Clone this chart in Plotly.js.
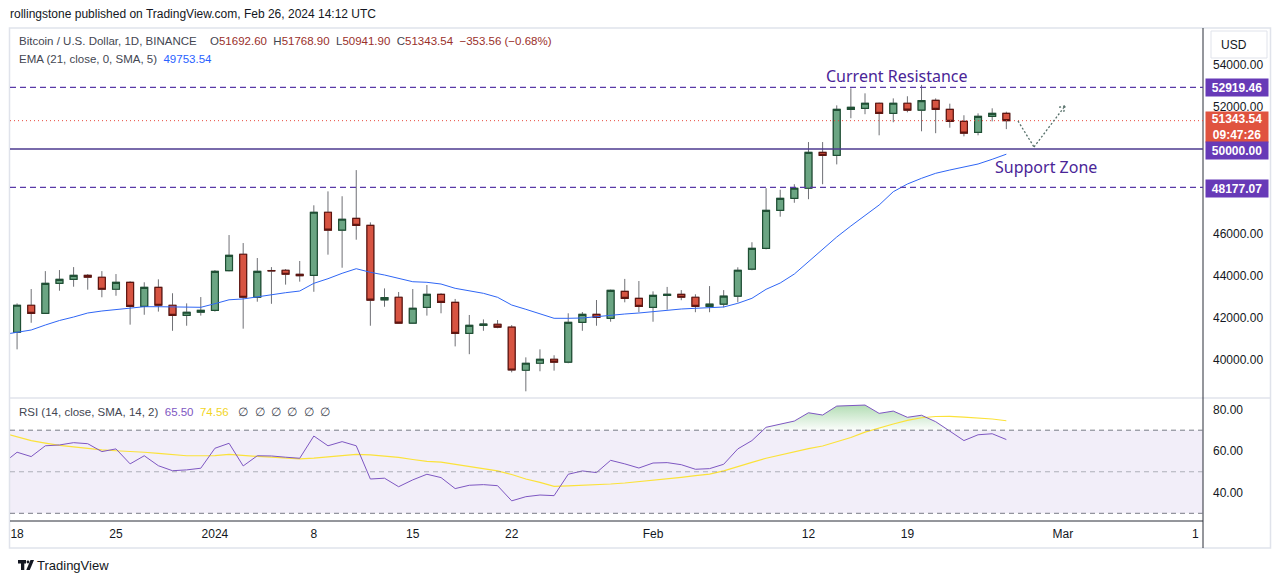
<!DOCTYPE html>
<html><head><meta charset="utf-8">
<script src="https://cdn.plot.ly/plotly-3.0.1.min.js"></script>
<style>html,body{margin:0;padding:0;background:#fff;}#chart{width:1281px;height:583px;}</style>
</head><body><div id="chart"></div>
<script>
// ---------------- DATA ----------------
const dates = ['2023-12-18','2023-12-19','2023-12-20','2023-12-21','2023-12-22','2023-12-23','2023-12-24','2023-12-25','2023-12-26','2023-12-27','2023-12-28','2023-12-29','2023-12-30','2023-12-31',
'2024-01-01','2024-01-02','2024-01-03','2024-01-04','2024-01-05','2024-01-06','2024-01-07','2024-01-08','2024-01-09','2024-01-10','2024-01-11','2024-01-12','2024-01-13','2024-01-14','2024-01-15','2024-01-16','2024-01-17','2024-01-18','2024-01-19','2024-01-20','2024-01-21','2024-01-22','2024-01-23','2024-01-24','2024-01-25','2024-01-26','2024-01-27','2024-01-28','2024-01-29','2024-01-30','2024-01-31',
'2024-02-01','2024-02-02','2024-02-03','2024-02-04','2024-02-05','2024-02-06','2024-02-07','2024-02-08','2024-02-09','2024-02-10','2024-02-11','2024-02-12','2024-02-13','2024-02-14','2024-02-15','2024-02-16','2024-02-17','2024-02-18','2024-02-19','2024-02-20','2024-02-21','2024-02-22','2024-02-23','2024-02-24','2024-02-25','2024-02-26'];
const openP  = [41310,42590,42210,43630,43820,44010,43920,43350,43680,42540,43440,42590,42110,42260,
42350,44230,45010,42970,44240,44250,44060,44010,47000,46150,46710,46380,42850,42970,41740,42490,43110,42730,41260,41640,41690,41550,39510,39840,40030,39890,41780,42160,41970,43250,42920,
42490,43060,43110,42970,42540,42640,43020,44300,45290,47090,47660,48140,49840,49700,51880,51930,52170,51690,52170,51840,52310,51880,51310,50790,51550,51692.60];
const highP  = [42680,43360,44210,44260,44400,44070,44210,44070,43730,43680,43820,43160,42680,42980,
44260,45920,45540,44830,44400,44310,44690,47330,47990,47760,49000,46520,43390,43220,43360,43550,43160,42890,42130,41920,41890,41650,40120,40500,40220,42210,42270,42840,43330,43840,43740,
43250,43460,43310,43110,43500,43310,44390,45580,48140,48070,48330,50330,50330,52070,52880,52640,52200,52400,52500,53040,52400,52150,51600,51690,51930,51768.90];
const lowP   = [40500,41760,42190,43280,43470,43330,42970,43040,41670,42140,42290,41380,41620,42100,
42290,44200,41480,42760,42660,43570,43710,43230,44990,44370,45700,41620,42520,41730,41730,42100,42210,40640,40270,41380,41500,39410,38510,39460,39490,39840,41380,41620,41810,42730,42260,
41810,42380,42830,42260,42260,42490,42730,44250,45240,46790,47450,47620,48330,49270,51460,51650,50650,51270,51740,50840,50750,51010,50600,50650,51310,50941.90];
const closeP = [42590,42210,43630,43820,44010,43920,43350,43680,42540,43440,42590,42110,42260,42350,
44200,44960,42970,44200,44220,44060,43990,47000,46150,46670,46380,42830,42950,41740,42450,43110,42730,41260,41640,41700,41550,39520,39840,40030,39890,41780,42160,42020,43300,42920,42540,
43060,43110,42970,42540,42640,43020,44250,45290,47090,47660,48140,49840,49700,51880,51980,52170,51690,52170,51840,52290,51880,51310,50750,51550,51690,51343.54];

const lineDates = ['2023-12-17'].concat(dates);
const emaValues = [41200,41322,41417,41654,41868,42033,42223,42318,42389,42474,42522,42522,42508,42494,42494,
42664,42850,42890,42996,43110,43186,43266,43631,43850,44106,44324,44153,44025,43869,43707,43679,43598,43394,43281,43157,42968,42602,42399,42176,41972,41972,41986,42048,42128,42176,42223,
42285,42365,42413,42446,42460,42508,42683,42920,43347,43646,44072,44642,45258,45827,46349,46846,47344,47975,48340,48611,48848,49004,49132,49289,49512,49753.54];
const rsiValues = [54.0,59.4,57.3,62.5,62.9,64.0,63.5,59.7,61.0,53.8,57.7,52.9,50.5,50.9,51.7,
61.3,63.7,52.8,57.7,57.6,57.0,56.5,67.2,62.5,64.5,62.5,46.5,46.9,42.8,46.1,48.8,47.2,41.9,43.5,43.8,43.3,36.0,38.0,38.8,38.5,48.8,50.4,49.6,55.5,53.8,51.8,
54.2,54.4,53.4,51.2,51.5,53.6,61.0,65.0,71.4,73.0,74.4,78.4,77.3,81.6,81.8,82.1,78.1,79.2,76.2,77.2,74.1,69.6,65.0,67.8,68.3,65.50];
const rsiMaValues = [68.7,66.8,65.0,63.8,62.7,62.0,61.2,60.5,60.1,59.8,59.4,58.8,58.3,57.7,57.7,
57.8,58.4,57.8,57.4,57.0,56.5,56.2,56.6,57.1,57.7,58.4,58.1,57.6,56.9,55.9,55.0,54.6,53.5,52.5,51.6,50.4,48.7,46.5,44.9,43.0,43.2,43.4,43.7,44.1,44.6,45.2,
45.8,46.5,47.3,48.1,48.9,50.4,52.3,54.5,56.5,58.1,59.6,61.1,62.4,64.3,66.5,69.1,71.1,73.0,74.7,76.0,76.6,76.7,76.3,75.9,75.4,74.56];

const levelValues = [52919.46, 50000.00, 48177.07];   // resistance, support (solid), lower
const priceTicks = [40000,42000,44000,46000,52000,54000];
const rsiTicks = [40,60,80];
const rsiLevels = [70,50,30];
const timeTickVals = ['2023-12-18','2023-12-25','2024-01-01','2024-01-08','2024-01-15','2024-01-22','2024-02-01','2024-02-12','2024-02-19','2024-03-01'];
const timeTickText = ['18','25','2024','8','15','22','Feb','12','19','Mar'];

// ---------------- LAYOUT HELPERS ----------------
const W = 1281, H = 583;
const PX = x => x / W, PY = y => 1 - y / H;
const FONT = 'Liberation Sans, Arial, sans-serif';
const TXT = '#131722';
const PURPLE = '#673ab7';
const xRange = ['2023-12-17 12:00', '2024-03-10 22:00'];
const last = closeP.length - 1;

const traces = [];
// candle wicks (gray) + bodies
traces.push({type:'candlestick', x:dates, open:openP, high:highP, low:lowP, close:closeP,
  xaxis:'x', yaxis:'y', whiskerwidth:0, hoverinfo:'skip', showlegend:false,
  increasing:{line:{color:'#6f7075', width:1}, fillcolor:'#6ba583'},
  decreasing:{line:{color:'#6f7075', width:1}, fillcolor:'#d75442'}});
traces.push({type:'candlestick', x:dates, open:openP, close:closeP,
  high:openP.map((o,i)=>Math.max(o,closeP[i])), low:openP.map((o,i)=>Math.min(o,closeP[i])),
  xaxis:'x', yaxis:'y', whiskerwidth:0, hoverinfo:'skip', showlegend:false,
  increasing:{line:{color:'#1f4f34', width:1.2}, fillcolor:'#6ba583'},
  decreasing:{line:{color:'#5e1510', width:1.2}, fillcolor:'#d75442'}});
// EMA
traces.push({type:'scatter', mode:'lines', x:lineDates, y:emaValues, xaxis:'x', yaxis:'y',
  line:{color:'#2f66f5', width:1}, hoverinfo:'skip', showlegend:false});
// RSI overbought fill
traces.push({type:'scatter', mode:'lines', x:lineDates, y:lineDates.map(()=>rsiLevels[0]), xaxis:'x2', yaxis:'y2',
  line:{width:0, color:'rgba(0,0,0,0)'}, hoverinfo:'skip', showlegend:false});
traces.push({type:'scatter', mode:'lines', x:lineDates, y:rsiValues.map(v=>Math.max(v,rsiLevels[0])), xaxis:'x2', yaxis:'y2',
  line:{width:0, color:'rgba(0,0,0,0)'}, fill:'tonexty', fillcolor:'rgba(76,175,80,0.25)',
  fillgradient:{type:'vertical', start:70, stop:82, colorscale:[[0,'rgba(76,175,80,0.02)'],[1,'rgba(76,175,80,0.42)']]},
  hoverinfo:'skip', showlegend:false});
// RSI MA and RSI
traces.push({type:'scatter', mode:'lines', x:lineDates, y:rsiMaValues, xaxis:'x2', yaxis:'y2',
  line:{color:'#fbe23a', width:1.2}, hoverinfo:'skip', showlegend:false});
traces.push({type:'scatter', mode:'lines', x:lineDates, y:rsiValues, xaxis:'x2', yaxis:'y2',
  line:{color:'#7e57c2', width:1}, hoverinfo:'skip', showlegend:false});

const shapes = [];
const hline = (y0, x0, x1, color, width, dash) => shapes.push({type:'line', xref:'paper', yref:'paper',
  x0:PX(x0), x1:PX(x1), y0:PY(y0), y1:PY(y0), line:{color, width, dash: dash||'solid'}});
const vline = (x0, y0, y1, color, width) => shapes.push({type:'line', xref:'paper', yref:'paper',
  x0:PX(x0), x1:PX(x0), y0:PY(y0), y1:PY(y1), line:{color, width}});
// outer frame
shapes.push({type:'rect', xref:'paper', yref:'paper', x0:PX(9.5), x1:PX(1270.5), y0:PY(548), y1:PY(28),
  line:{color:'#e0e3eb', width:1.5}});
hline(398, 10, 1270, '#e0e3eb', 1.5);
vline(1203, 28, 548, '#2a2e39', 1);
hline(521, 10, 1203, '#2a2e39', 1);
// RSI band
shapes.push({type:'rect', xref:'paper', yref:'y2', x0:PX(10), x1:PX(1203), y0:rsiLevels[2], y1:rsiLevels[0],
  fillcolor:'rgba(126,87,194,0.10)', line:{width:0}, layer:'below'});
rsiLevels.forEach((v,i)=>shapes.push({type:'line', xref:'paper', yref:'y2', x0:PX(10), x1:PX(1203), y0:v, y1:v,
  line:{color: i===1 ? 'rgba(120,123,134,0.55)' : '#787b86', width:1, dash:'5px,4px'}}));
// price levels
shapes.push({type:'line', xref:'paper', yref:'y', x0:PX(10), x1:PX(1203), y0:levelValues[0], y1:levelValues[0], line:{color:'#5a3aa8', width:1.2, dash:'6px,4px'}});
shapes.push({type:'line', xref:'paper', yref:'y', x0:PX(10), x1:PX(1203), y0:levelValues[1], y1:levelValues[1], line:{color:'#4c3a8f', width:1.3}});
shapes.push({type:'line', xref:'paper', yref:'y', x0:PX(10), x1:PX(1203), y0:levelValues[2], y1:levelValues[2], line:{color:'#5a3aa8', width:1.2, dash:'6px,4px'}});
// current price dotted line
shapes.push({type:'line', xref:'paper', yref:'y', x0:PX(10), x1:PX(1203), y0:closeP[last], y1:closeP[last], line:{color:'#e8493d', width:1, dash:'1px,3px'}});
// projected path (dotted arrow)
const seg = (a,b,c,d) => shapes.push({type:'line', xref:'paper', yref:'paper', x0:PX(a), y0:PY(b), x1:PX(c), y1:PY(d), line:{color:'#56706a', width:1.3, dash:'2px,2px'}});
seg(1018,121,1034,147); seg(1034,147,1065,106); seg(1065,106,1058,107.5); seg(1065,106,1063.5,113);
// USD box
shapes.push({type:'rect', xref:'paper', yref:'paper', x0:PX(1211), x1:PX(1267), y0:PY(58), y1:PY(31), fillcolor:'#ffffff', line:{color:'#e0e3eb', width:1}});
// TradingView logo
const pathPx = pts => 'M' + pts.map(p=>PX(p[0]).toFixed(5)+','+PY(p[1]).toFixed(5)).join(' L') + ' Z';
shapes.push({type:'path', xref:'paper', yref:'paper', path:pathPx([[18,560],[26,560],[26,563.5],[24.3,563.5],[24.3,570],[21,570],[21,563.5],[18,563.5]]), fillcolor:'#131722', line:{width:0}});
shapes.push({type:'path', xref:'paper', yref:'paper', path:pathPx([[30.5,560],[34,560],[29.8,570],[26.3,570]]), fillcolor:'#131722', line:{width:0}});
shapes.push({type:'circle', xref:'paper', yref:'paper', x0:PX(26.6), x1:PX(29.4), y0:PY(563.4), y1:PY(560.6), fillcolor:'#131722', line:{width:0}});

const annotations = [];
const ann = (text, x, y, o) => annotations.push(Object.assign({xref:'paper', yref:'paper', x:PX(x), y:PY(y), text,
  showarrow:false, xanchor:'left', yanchor:'middle', font:{family:FONT, size:12, color:TXT}}, o||{}));
ann('rollingstone published on TradingView.com, Feb 26, 2024 14:12 UTC', 8, 14, {font:{family:FONT, size:12, color:TXT}});
ann('Bitcoin / U.S. Dollar, 1D, BINANCE', 17, 41.5, {font:{family:FONT, size:11.5, color:'#434651'}});
const R = s => `<span style="color:#9a2f2a">${s}</span>`;
ann(`O${R('51692.60')}  H${R('51768.90')}  L${R('50941.90')}  C${R('51343.54')}  ${R('−353.56 (−0.68%)')}`, 208, 41.5, {font:{family:FONT, size:11.5, color:'#434651'}});
ann('EMA (21, close, 0, SMA, 5)  <span style="color:#2962ff">49753.54</span>', 17, 58.5, {font:{family:FONT, size:11.5, color:'#434651'}});
ann('RSI (14, close, SMA, 14, 2)  <span style="color:#7e57c2">65.50</span>  <span style="color:#f2d51f">74.56</span>   ∅  ∅  ∅  ∅  ∅  ∅', 17, 412, {font:{family:FONT, size:11.5, color:'#434651'}});
ann('Current Resistance', 897, 76, {xanchor:'center', font:{family:'Noto Sans, sans-serif', size:16, color:'#4a2597'}});
ann('Support Zone', 1046, 167, {xanchor:'center', font:{family:'Noto Sans, sans-serif', size:16, color:'#4a2597'}});
ann('USD', 1219, 44.5, {font:{family:FONT, size:12, color:TXT}});
ann('1', 1201, 534, {xanchor:'right', font:{family:FONT, size:12, color:TXT}});
ann('TradingView', 35, 565.5, {font:{family:FONT, size:13, color:TXT}});
// right-axis value labels
const lab = (text, yc, h, bg) => ann(text, 1205, yc, {width:62, height:h, bgcolor:bg, align:'center', borderpad:0,
  font:{family:FONT, size:12, color:'#ffffff'}});
lab('<b>' + levelValues[0].toFixed(2) + '</b>', 87.5, 17, PURPLE);
lab('<b>' + closeP[last].toFixed(2) + '</b><br><b>09:47:26</b>', 127, 30, '#e0533f');
lab('<b>' + levelValues[1].toFixed(2) + '</b>', 151, 17, PURPLE);
lab('<b>' + levelValues[2].toFixed(2) + '</b>', 188, 17, PURPLE);

const axFont = {family:FONT, size:12, color:TXT};
const layout = {
  width:W, height:H, margin:{l:0,r:0,t:0,b:0}, paper_bgcolor:'#ffffff', plot_bgcolor:'rgba(0,0,0,0)',
  showlegend:false, hovermode:false, dragmode:false,
  xaxis:{type:'date', domain:[PX(10), PX(1203)], range:xRange, anchor:'y', showticklabels:false, showgrid:false,
    zeroline:false, showline:false, rangeslider:{visible:false}, fixedrange:true},
  yaxis:{domain:[PY(398), PY(28)], range:[38193, 55738], side:'right', anchor:'x', tickvals:priceTicks,
    tickformat:'.2f', showgrid:false, zeroline:false, showline:false, ticks:'', ticklabelstandoff:9, tickfont:axFont, fixedrange:true},
  xaxis2:{type:'date', domain:[PX(10), PX(1203)], range:xRange, anchor:'y2', tickvals:timeTickVals, ticktext:timeTickText,
    showgrid:false, zeroline:false, showline:false, ticks:'', ticklabelstandoff:4, tickfont:axFont, fixedrange:true},
  yaxis2:{domain:[PY(521), PY(398)], range:[26.3, 85.5], side:'right', anchor:'x2', tickvals:rsiTicks,
    tickformat:'.2f', showgrid:false, zeroline:false, showline:false, ticks:'', ticklabelstandoff:9, tickfont:axFont, fixedrange:true},
  boxgap:0.3,
  shapes, annotations
};
Plotly.newPlot('chart', traces, layout, {staticPlot:true, displayModeBar:false});
</script></body></html>
